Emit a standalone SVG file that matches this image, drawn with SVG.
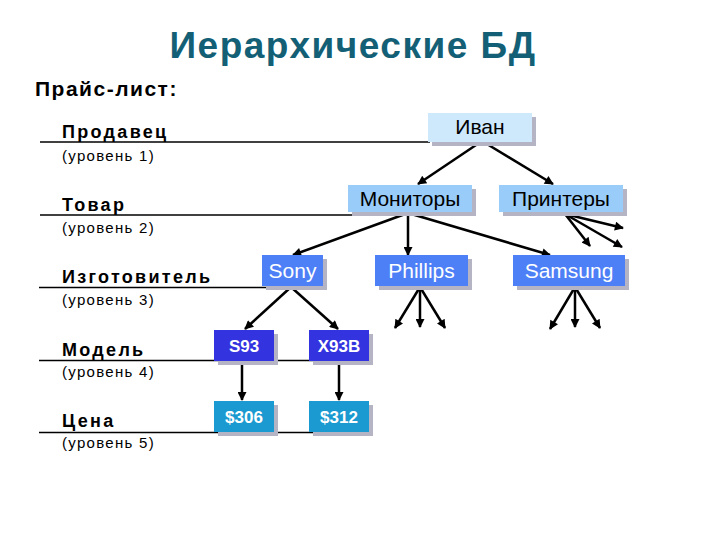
<svg xmlns="http://www.w3.org/2000/svg" width="720" height="540" viewBox="0 0 720 540">
<defs>
<style>
.title{font-family:"Liberation Sans",Arial,sans-serif;font-weight:bold;font-size:37px;fill:#135f76;letter-spacing:1.5px}
.sub{font-family:"Liberation Sans",Arial,sans-serif;font-weight:bold;font-size:21px;fill:#000;letter-spacing:1.5px}
.lvl{font-family:"Liberation Sans",Arial,sans-serif;font-weight:bold;font-size:18px;fill:#000;letter-spacing:2.3px}
.lvn{font-family:"Liberation Sans",Arial,sans-serif;font-size:15px;fill:#000;letter-spacing:1.3px}
.rule{stroke:#000;stroke-width:1.3;fill:none}
.shadow{fill:#b4b4c4}
.n1{fill:#cde9fb}
.n2{fill:#99ccf8}
.n3{fill:#4d7ff6}
.n4{fill:#3333e0}
.n5{fill:#1a9ad0}
.t{font-family:"Liberation Sans",Arial,sans-serif;font-size:21px;text-anchor:middle}
.tb{font-family:"Liberation Sans",Arial,sans-serif;font-size:17px;font-weight:bold;fill:#fff;text-anchor:middle}
.dark{fill:#000}
.light{fill:#fff}
.edge{stroke:#000;stroke-width:2.5;fill:none;marker-end:url(#ah)}
</style>
<marker id="ah" viewBox="0 0 10 10" refX="9" refY="5" markerWidth="11" markerHeight="9" markerUnits="userSpaceOnUse" orient="auto">
<path d="M0,0 L10,5 L0,10 Z" fill="#000"/>
</marker>
</defs>
<rect width="720" height="540" fill="#fff"/>
<text class="title" x="353" y="58" text-anchor="middle">Иерархические БД</text>
<text class="sub" x="35" y="96">Прайс-лист:</text>

<g id="levels">
<line class="rule" x1="40" y1="142" x2="430" y2="142"/>
<line class="rule" x1="40" y1="215" x2="360" y2="215"/>
<line class="rule" x1="39" y1="287.5" x2="280" y2="287.5"/>
<line class="rule" x1="39" y1="360.5" x2="337" y2="360.5"/>
<line class="rule" x1="39" y1="432.5" x2="337" y2="432.5"/>
<text class="lvl" x="62" y="138">Продавец</text>
<text class="lvn" x="62" y="161">(уровень 1)</text>
<text class="lvl" x="62" y="211">Товар</text>
<text class="lvn" x="62" y="233">(уровень 2)</text>
<text class="lvl" x="62" y="283">Изготовитель</text>
<text class="lvn" x="62" y="305">(уровень 3)</text>
<text class="lvl" x="62" y="356">Модель</text>
<text class="lvn" x="62" y="377">(уровень 4)</text>
<text class="lvl" x="62" y="427">Цена</text>
<text class="lvn" x="62" y="448">(уровень 5)</text>
</g>

<g id="connectors">
<line class="edge" x1="482" y1="141" x2="418" y2="184"/>
<line class="edge" x1="482" y1="141" x2="553" y2="184"/>
<line class="edge" x1="408" y1="213" x2="293" y2="255"/>
<line class="edge" x1="408" y1="213" x2="408" y2="255"/>
<line class="edge" x1="408" y1="213" x2="550" y2="255"/>
<line class="edge" x1="565" y1="214" x2="590" y2="246"/>
<line class="edge" x1="565" y1="214" x2="622" y2="247"/>
<line class="edge" x1="565" y1="214" x2="623" y2="228"/>
<line class="edge" x1="420" y1="287" x2="395" y2="328"/>
<line class="edge" x1="420" y1="287" x2="420" y2="327"/>
<line class="edge" x1="420" y1="287" x2="445" y2="328"/>
<line class="edge" x1="575" y1="287" x2="550" y2="329"/>
<line class="edge" x1="575" y1="287" x2="575" y2="327"/>
<line class="edge" x1="575" y1="287" x2="600" y2="328"/>
<line class="edge" x1="291" y1="287" x2="245" y2="329"/>
<line class="edge" x1="291" y1="287" x2="338" y2="329"/>
<line class="edge" x1="242" y1="361" x2="242" y2="400"/>
<line class="edge" x1="339" y1="361" x2="339" y2="400"/>
</g>

<g id="ivan">
<rect class="shadow" x="432" y="117" width="104" height="29"/>
<rect class="n1" x="428" y="113" width="104" height="29"/>
<text class="t dark" x="480" y="134">Иван</text>
</g>
<g id="monitory">
<rect class="shadow" x="352" y="189" width="124" height="27"/>
<rect class="n2" x="348" y="185" width="124" height="27"/>
<text class="t dark" x="410" y="206">Мониторы</text>
</g>
<g id="printery">
<rect class="shadow" x="503" y="189" width="124" height="27"/>
<rect class="n2" x="499" y="185" width="124" height="27"/>
<text class="t dark" x="561" y="206">Принтеры</text>
</g>
<g id="sony">
<rect class="shadow" x="266" y="259" width="61" height="31"/>
<rect class="n3" x="262" y="255" width="61" height="31"/>
<text class="t light" x="292.5" y="278">Sony</text>
</g>
<g id="phillips">
<rect class="shadow" x="379" y="259" width="93" height="31"/>
<rect class="n3" x="375" y="255" width="93" height="31"/>
<text class="t light" x="421.5" y="278">Phillips</text>
</g>
<g id="samsung">
<rect class="shadow" x="517" y="259" width="112" height="31"/>
<rect class="n3" x="513" y="255" width="112" height="31"/>
<text class="t light" x="569" y="278">Samsung</text>
</g>
<g id="s93">
<rect class="shadow" x="218" y="334" width="60" height="31"/>
<rect class="n4" x="214" y="330" width="60" height="31"/>
<text class="tb" x="244" y="351.5">S93</text>
</g>
<g id="x93b">
<rect class="shadow" x="313" y="334" width="60" height="31"/>
<rect class="n4" x="309" y="330" width="60" height="31"/>
<text class="tb" x="339" y="351.5">X93B</text>
</g>
<g id="p306">
<rect class="shadow" x="218" y="405" width="60" height="31"/>
<rect class="n5" x="214" y="401" width="60" height="31"/>
<text class="tb" x="244" y="422.5">$306</text>
</g>
<g id="p312">
<rect class="shadow" x="313" y="405" width="60" height="31"/>
<rect class="n5" x="309" y="401" width="60" height="31"/>
<text class="tb" x="339" y="422.5">$312</text>
</g>
</svg>
